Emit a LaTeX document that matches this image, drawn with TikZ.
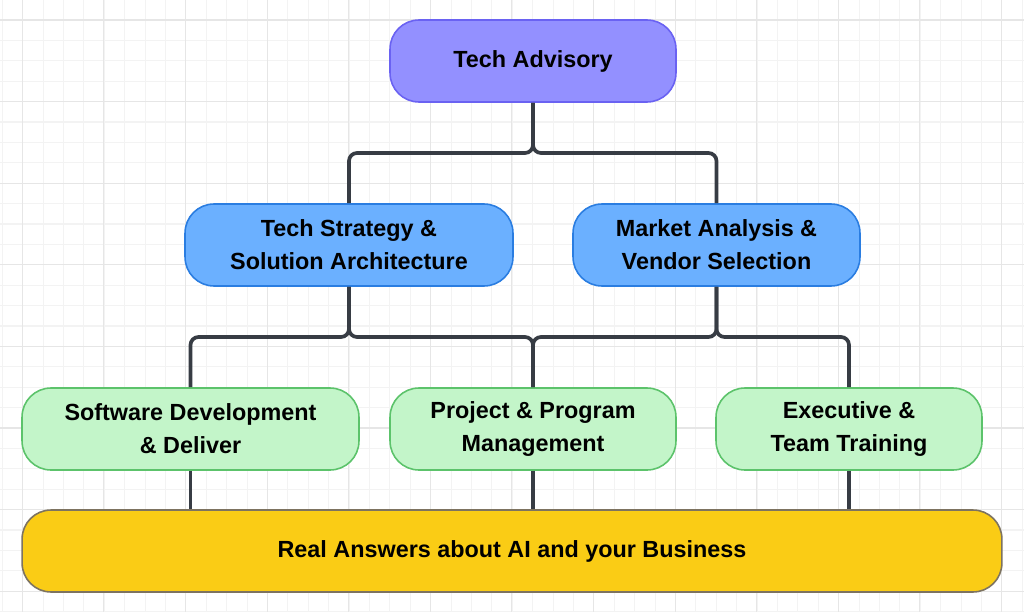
\documentclass[tikz,border=0pt]{standalone}
\usepackage{fontspec}
\setmainfont{Liberation Sans}
\definecolor{gridminor}{HTML}{F3F3F3}
\definecolor{gridmajor}{HTML}{E6E6E6}
\definecolor{linkgray}{HTML}{373C44}
\definecolor{topfill}{HTML}{9390FF}
\definecolor{topdraw}{HTML}{6A62F2}
\definecolor{midfill}{HTML}{6BB0FF}
\definecolor{middraw}{HTML}{2A7DE1}
\definecolor{lowfill}{HTML}{C3F5C9}
\definecolor{lowdraw}{HTML}{5CC36B}
\definecolor{basefill}{HTML}{FACC15}
\definecolor{basedraw}{HTML}{7D7360}
\tikzset{
  box/.style={rounded corners=0.58cm, line width=0.9pt, minimum height=1.64cm,
    align=center, font=\bfseries\fontsize{13.3}{18.7}\selectfont, inner sep=0pt},
  topbox/.style={box, fill=topfill, draw=topdraw},
  midbox/.style={box, fill=midfill, draw=middraw},
  lowbox/.style={box, fill=lowfill, draw=lowdraw},
  basebox/.style={box, fill=basefill, draw=basedraw},
  link/.style={draw=linkgray, line width=2.1pt, rounded corners=0.16cm}
}
\begin{document}
\begin{tikzpicture}[x=0.02cm, y=-0.02cm]
        \useasboundingbox[fill=white] (0,0) rectangle (1024,612);
        % background grid
        \foreach \gx in {0,...,50} \draw[gridminor, line width=0.6pt] ({2.3+20.4*\gx},0) -- ++(0,612);
        \foreach \gy in {0,...,30} \draw[gridminor, line width=0.6pt] (0,{-0.4+20.4*\gy}) -- ++(1024,0);
        \foreach \gx in {0,...,12} \draw[gridmajor, line width=0.6pt] ({22.3+81.6*\gx},0) -- ++(0,612);
        \foreach \gy in {0,...,7} \draw[gridmajor, line width=0.6pt] (0,{20+81.6*\gy}) -- ++(1024,0);
        % boxes
        \node[topbox, minimum width=5.72cm] (adv) at (533,61) {Tech Advisory};
        \node[midbox, minimum width=6.56cm] (strat) at (349,245) {Tech Strategy \&\\Solution Architecture};
        \node[midbox, minimum width=5.74cm] (market) at (716.5,245) {Market Analysis \&\\Vendor Selection};
        \node[lowbox, minimum width=6.74cm] (soft) at (190.5,429) {Software Development\\\& Deliver};
        \node[lowbox, minimum width=5.72cm] (proj) at (533,429) {Project \& Program\\Management};
        \node[lowbox, minimum width=5.32cm] (exec) at (849,429) {Executive \&\\Team Training};
        \node[basebox, minimum width=19.6cm] (base) at (512,551) {Real Answers about AI and your Business};
        % connectors
        \coordinate (j1) at (533,153);
        \coordinate (j2) at (349,337);
        \coordinate (j3) at (716.5,337);
        \draw[link] (adv.south) -- (j1) -| (strat.north);
        \draw[link] (adv.south) -- (j1) -| (market.north);
        \draw[link] (strat.south) -- (j2) -| (soft.north);
        \draw[link] (strat.south) -- (j2) -| (proj.north);
        \draw[link] (market.south) -- (j3) -| (proj.north);
        \draw[link] (market.south) -- (j3) -| (exec.north);
        \draw[link] (soft.south) -- (soft.south |- base.north);
        \draw[link] (proj.south) -- (proj.south |- base.north);
        \draw[link] (exec.south) -- (exec.south |- base.north);
\end{tikzpicture}
\end{document}
